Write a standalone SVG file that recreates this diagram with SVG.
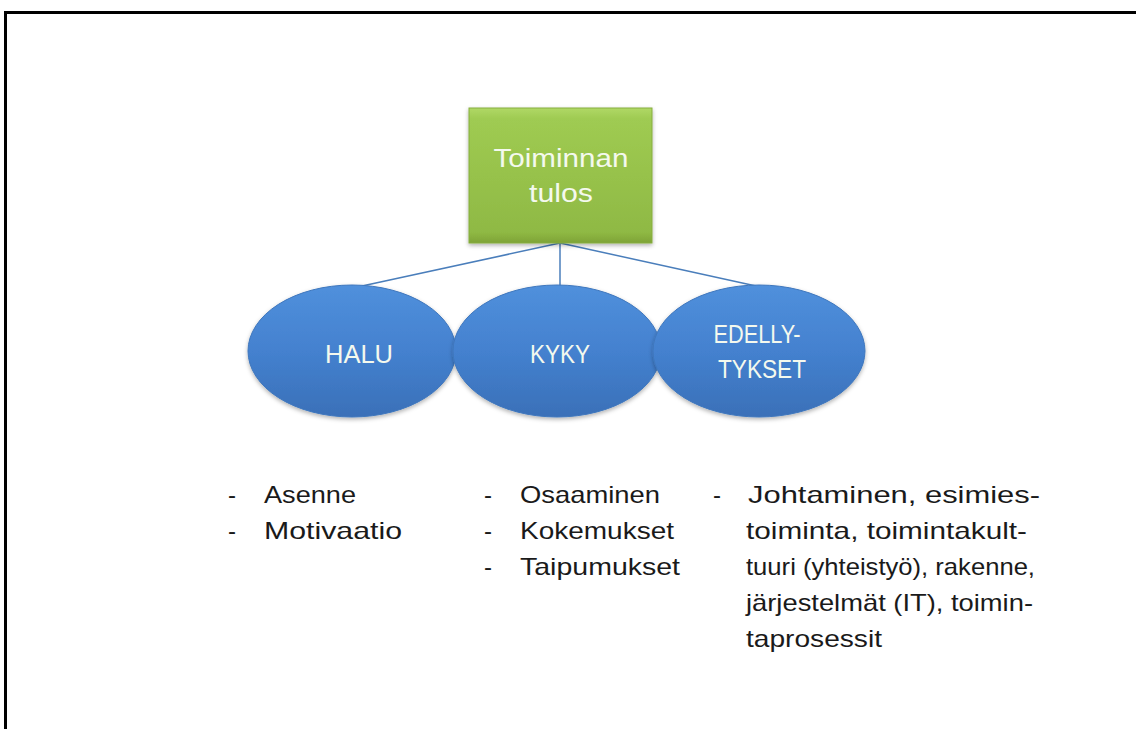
<svg xmlns="http://www.w3.org/2000/svg" width="1136" height="729" viewBox="0 0 1136 729">
<defs>
<linearGradient id="gGreen" x1="0" y1="0" x2="0" y2="1">
<stop offset="0" stop-color="#b0d866"/>
<stop offset="0.08" stop-color="#9fcb52"/>
<stop offset="0.92" stop-color="#8fb944"/>
<stop offset="1" stop-color="#7ea336"/>
</linearGradient>
<linearGradient id="gBlue" x1="0" y1="0" x2="0" y2="1">
<stop offset="0" stop-color="#5090dc"/>
<stop offset="0.5" stop-color="#4481cf"/>
<stop offset="1" stop-color="#3a70b8"/>
</linearGradient>
<filter id="sh" x="-10%" y="-10%" width="120%" height="125%">
<feDropShadow dx="0" dy="2" stdDeviation="2" flood-color="#000" flood-opacity="0.3"/>
</filter>
</defs>
<style>
.lbl{font-family:"Liberation Sans",Arial,sans-serif;fill:#f4f9ee;text-anchor:middle;font-size:26px}
.txt{font-family:"Liberation Sans",Arial,sans-serif;font-size:24px;fill:#1a1a1a}
.conn{stroke:#4a7ebb;stroke-width:1.5;fill:none}
.ell{fill:url(#gBlue);stroke:#3f77bd;stroke-width:1;filter:url(#sh)}
</style>
<rect width="1136" height="729" fill="#fff"/>
<path d="M5.5 729 V12.5 H1136" fill="none" stroke="#000" stroke-width="3"/>
<g id="connectors">
<line class="conn" x1="560" y1="243" x2="362" y2="286"/>
<line class="conn" x1="560" y1="243" x2="560" y2="286"/>
<line class="conn" x1="560" y1="243" x2="756" y2="286"/>
</g>
<g id="node-tulos">
<rect x="469" y="108" width="183" height="135" fill="url(#gGreen)" stroke="#86ad3e" stroke-width="1" filter="url(#sh)"/>
<text class="lbl" x="561" y="167" textLength="135" lengthAdjust="spacingAndGlyphs">Toiminnan</text>
<text class="lbl" x="561" y="202" textLength="64" lengthAdjust="spacingAndGlyphs">tulos</text>
</g>
<g id="node-halu">
<ellipse class="ell" cx="352" cy="351" rx="104" ry="66"/>
<text class="lbl" x="359" y="363" textLength="68" lengthAdjust="spacingAndGlyphs">HALU</text>
</g>
<g id="node-kyky">
<ellipse class="ell" cx="557" cy="351" rx="104" ry="66"/>
<text class="lbl" x="560" y="363" textLength="60" lengthAdjust="spacingAndGlyphs">KYKY</text>
</g>
<g id="node-edellytykset">
<ellipse class="ell" cx="759" cy="351" rx="106" ry="66"/>
<text class="lbl" x="757" y="343" textLength="87" lengthAdjust="spacingAndGlyphs">EDELLY-</text>
<text class="lbl" x="762" y="378" textLength="88" lengthAdjust="spacingAndGlyphs">TYKSET</text>
</g>
<g id="list-halu">
<text class="txt" x="228" y="503">-</text>
<text class="txt" x="264" y="503" textLength="92" lengthAdjust="spacingAndGlyphs">Asenne</text>
<text class="txt" x="228" y="539">-</text>
<text class="txt" x="264" y="539" textLength="138" lengthAdjust="spacingAndGlyphs">Motivaatio</text>
</g>
<g id="list-kyky">
<text class="txt" x="484" y="503">-</text>
<text class="txt" x="520" y="503" textLength="140" lengthAdjust="spacingAndGlyphs">Osaaminen</text>
<text class="txt" x="484" y="539">-</text>
<text class="txt" x="520" y="539" textLength="154" lengthAdjust="spacingAndGlyphs">Kokemukset</text>
<text class="txt" x="484" y="575">-</text>
<text class="txt" x="520" y="575" textLength="160" lengthAdjust="spacingAndGlyphs">Taipumukset</text>
</g>
<g id="list-edellytykset">
<text class="txt" x="713" y="503">-</text>
<text class="txt" x="748" y="503" textLength="292" lengthAdjust="spacingAndGlyphs">Johtaminen, esimies-</text>
<text class="txt" x="746" y="539" textLength="281" lengthAdjust="spacingAndGlyphs">toiminta, toimintakult-</text>
<text class="txt" x="746" y="575" textLength="289" lengthAdjust="spacingAndGlyphs">tuuri (yhteistyö), rakenne,</text>
<text class="txt" x="746" y="611" textLength="287" lengthAdjust="spacingAndGlyphs">järjestelmät (IT), toimin-</text>
<text class="txt" x="746" y="647" textLength="136" lengthAdjust="spacingAndGlyphs">taprosessit</text>
</g>
</svg>
